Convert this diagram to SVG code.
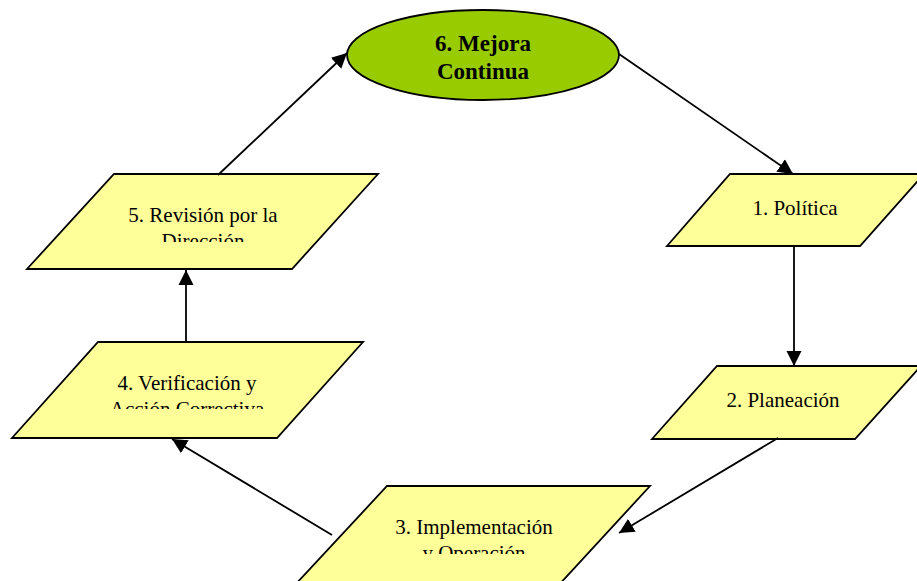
<svg xmlns="http://www.w3.org/2000/svg" width="917" height="581" viewBox="0 0 917 581">
<style>
.box{fill:#FFFF99;stroke:#000;stroke-width:1.8;stroke-linejoin:miter}
.ell{fill:#99CC00;stroke:#000;stroke-width:1.8}
.t{font-family:"Liberation Serif","Times New Roman",serif;font-size:21px;fill:#000;text-anchor:middle}
.tb{font-family:"Liberation Serif","Times New Roman",serif;font-size:23px;font-weight:bold;fill:#000;text-anchor:middle}
.c{stroke:#000;stroke-width:1.8;fill:none;marker-end:url(#ah)}
</style>
<defs>
<marker id="ah" markerUnits="userSpaceOnUse" markerWidth="16" markerHeight="16" viewBox="0 0 16 16" refX="15" refY="8" orient="auto">
<path d="M0,0.5 L15,8 L0,15.5 Z" fill="#000"/>
</marker>
<clipPath id="c5"><rect x="0" y="170" width="400" height="72"/></clipPath>
<clipPath id="c4"><rect x="0" y="340" width="400" height="69"/></clipPath>
<clipPath id="c3"><rect x="280" y="480" width="400" height="74"/></clipPath>
</defs>
<rect width="917" height="581" fill="#fff"/>
<g id="node6">
<ellipse class="ell" cx="483" cy="55" rx="136" ry="45"/>
<text class="tb" x="483" y="51">6. Mejora</text>
<text class="tb" x="483" y="79">Continua</text>
</g>
<g id="node1">
<polygon class="box" points="730,174 924,174 860,246 667,246"/>
<text class="t" x="795" y="215">1. Política</text>
</g>
<g id="node2">
<polygon class="box" points="717,366 921,366 855,439 652,439"/>
<text class="t" x="783" y="407">2. Planeación</text>
</g>
<g id="node3">
<polygon class="box" points="387,486 650,486 545,600 281,600"/>
<g clip-path="url(#c3)">
<text class="t" x="474" y="534">3. Implementación</text>
<text class="t" x="474" y="559.5">y Operación</text>
</g>
</g>
<g id="node4">
<polygon class="box" points="98,342 363,342 277,438 12,438"/>
<g clip-path="url(#c4)">
<text class="t" x="187" y="390">4. Verificación y</text>
<text class="t" x="187" y="415.5">Acción Correctiva</text>
</g>
</g>
<g id="node5">
<polygon class="box" points="114,174 378,174 292,269 27,269"/>
<g clip-path="url(#c5)">
<text class="t" x="203" y="222">5. Revisión por la</text>
<text class="t" x="203" y="247.5">Dirección</text>
</g>
</g>
<g id="connectors">
<line class="c" x1="619" y1="54" x2="793" y2="174"/>
<line class="c" x1="794" y1="246" x2="794" y2="366"/>
<line class="c" x1="778" y1="438" x2="619" y2="533"/>
<line class="c" x1="332" y1="535" x2="172" y2="439"/>
<line class="c" x1="186" y1="342" x2="186" y2="270"/>
<line class="c" x1="218" y1="175" x2="347" y2="53"/>
</g>
</svg>
